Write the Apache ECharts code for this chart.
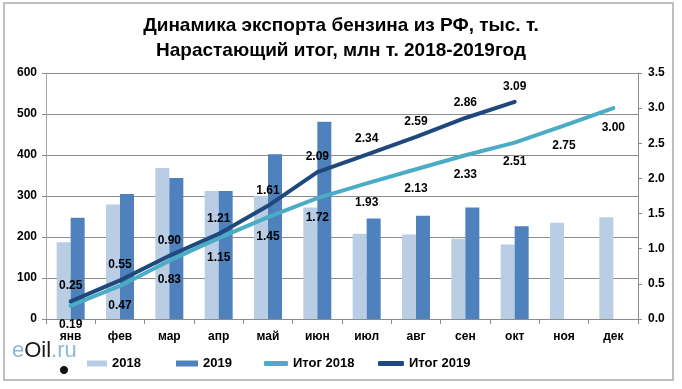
<!DOCTYPE html>
<html><head><meta charset="utf-8">
<script src="https://cdn.jsdelivr.net/npm/echarts@6/dist/echarts.min.js"></script>
<style>html,body{margin:0;padding:0;background:#fff}#c{width:682px;height:389px}</style>
</head><body><div id="c"></div>
<script>
const months = ['янв','фев','мар','апр','май','июн','июл','авг','сен','окт','ноя','дек'];
const exp2018 = [187, 279, 368, 312, 300, 272, 208, 206, 196, 182, 235, 248];
const exp2019 = [247, 305, 344, 312, 402, 481, 245, 252, 272, 226, null, null];
const cum2018 = [0.19, 0.47, 0.83, 1.15, 1.45, 1.72, 1.93, 2.13, 2.33, 2.51, 2.75, 3.00];
const cum2019 = [0.25, 0.55, 0.90, 1.21, 1.61, 2.09, 2.34, 2.59, 2.86, 3.09];
const leftTicks = {min: 0, max: 600, interval: 100};
const rightTicks = {min: 0, max: 3.5, interval: 0.5};

const FONT = 'Liberation Sans, Arial, sans-serif';
const chart = echarts.init(document.getElementById('c'), null, {renderer: 'canvas'});
const lblStyle = {fontFamily: FONT, fontSize: 12, fontWeight: 'bold', color: '#000'};
const legendText = {fontFamily: FONT, fontSize: 13, fontWeight: 'bold', color: '#000'};
function leg(name, left, icon, w, h) {
  return {data: [{name: name, icon: icon}], left: left, bottom: 14, itemWidth: w, itemHeight: h,
          itemGap: 0, textStyle: legendText};
}
chart.setOption({
  animation: false,
  title: {
    text: 'Динамика экспорта бензина из РФ, тыс. т.\nНарастающий итог, млн т. 2018-2019год',
    left: 'center', top: 8,
    textStyle: {fontFamily: FONT, fontSize: 19, fontWeight: 'bold', color: '#000', lineHeight: 25}
  },
  grid: {left: 46, right: 44, top: 73, bottom: 70, containLabel: false},
  legend: [
    leg('2018', 82, 'rect', 20, 6),
    leg('2019', 171, 'rect', 22, 6),
    leg('Итог 2018', 259, 'roundRect', 24, 5),
    leg('Итог 2019', 373, 'roundRect', 26, 5)
  ],
  xAxis: {
    type: 'category', data: months, boundaryGap: true,
    axisLine: {lineStyle: {color: '#8C8C8C'}},
    axisTick: {show: true, length: 5, lineStyle: {color: '#8C8C8C'}},
    axisLabel: {fontFamily: FONT, fontSize: 12, fontWeight: 'bold', color: '#000', margin: 12}
  },
  yAxis: [
    {type: 'value', min: leftTicks.min, max: leftTicks.max, interval: leftTicks.interval,
     axisLine: {show: true, lineStyle: {color: '#A6A6A6'}},
     axisTick: {show: true, length: 4, lineStyle: {color: '#8C8C8C'}},
     splitLine: {lineStyle: {color: '#8C8C8C'}},
     axisLabel: {fontFamily: FONT, fontSize: 12, fontWeight: 'bold', color: '#000', margin: 9}},
    {type: 'value', min: rightTicks.min, max: rightTicks.max, interval: rightTicks.interval,
     axisLine: {show: true, lineStyle: {color: '#8C8C8C'}},
     axisTick: {show: true, length: 4, lineStyle: {color: '#8C8C8C'}},
     splitLine: {show: false},
     axisLabel: {fontFamily: FONT, fontSize: 12, fontWeight: 'bold', color: '#000', margin: 10,
                 formatter: v => v.toFixed(1)}}
  ],
  series: [
    {name: '2018', type: 'bar', data: exp2018, barWidth: 14, barGap: '0%',
     itemStyle: {color: '#B9CDE5'}},
    {name: '2019', type: 'bar', data: exp2019, barWidth: 14, barGap: '0%',
     itemStyle: {color: '#4F81BD'}},
    {name: 'Итог 2018', type: 'line', yAxisIndex: 1, data: cum2018,
     symbol: 'circle', symbolSize: 1, showSymbol: true,
     lineStyle: {width: 4, color: '#4BACC6', cap: 'round'}, itemStyle: {color: '#4BACC6'},
     label: {show: true, position: 'bottom', distance: 13, ...lblStyle, formatter: p => Number(p.value).toFixed(2)},
     labelLayout: {hideOverlap: false}},
    {name: 'Итог 2019', type: 'line', yAxisIndex: 1, data: cum2019,
     symbol: 'circle', symbolSize: 1, showSymbol: true,
     lineStyle: {width: 4, color: '#1F497D', cap: 'round'}, itemStyle: {color: '#1F497D'},
     label: {show: true, position: 'top', distance: 9, ...lblStyle, formatter: p => Number(p.value).toFixed(2)},
     labelLayout: {hideOverlap: false}}
  ],
  graphic: [
    {type: 'rect', shape: {x: 4, y: 3, width: 669, height: 377}, silent: true,
     style: {fill: 'none', stroke: '#BFBFBF', lineWidth: 2}, z: -1},
    {type: 'text', left: 12, top: 340, silent: true,
     style: {text: '{a|e}{b|Oil}{a|.ru}',
       rich: {a: {fontFamily: FONT, fontSize: 22, fill: '#8DB6DA', color: '#8DB6DA'},
              b: {fontFamily: FONT, fontSize: 22, fill: '#1a1a1a', color: '#1a1a1a'}}}},
    {type: 'circle', shape: {cx: 64, cy: 370, r: 4.5}, silent: true,
     style: {fill: '#111', stroke: '#fff', lineWidth: 1}}
  ]
});
</script></body></html>
